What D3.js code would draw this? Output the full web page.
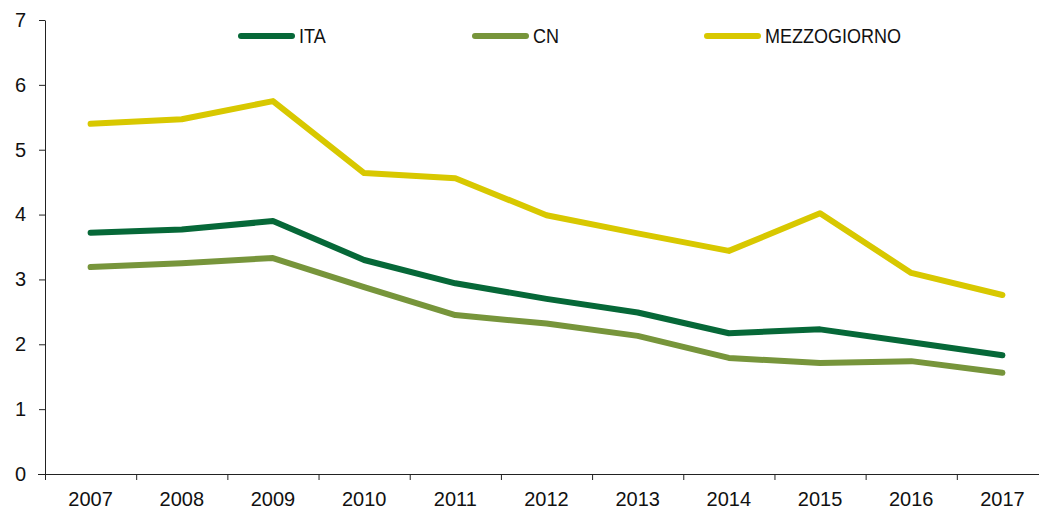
<!DOCTYPE html>
<html>
<head>
<meta charset="utf-8">
<script src="https://cdn.jsdelivr.net/npm/d3@7"></script>
<style>
  body { margin: 0; background: #fff; }
  .tick text { font-family: "Liberation Sans", Arial, sans-serif; font-size: 20px; fill: #111; }
</style>
</head>
<body>
<div id="chart"></div>
<script>
// data
var years = ["2007","2008","2009","2010","2011","2012","2013","2014","2015","2016","2017"];
var ita = [3.72, 3.77, 3.90, 3.30, 2.94, 2.70, 2.49, 2.17, 2.23, 2.03, 1.83];
var cn = [3.19, 3.25, 3.33, 2.88, 2.45, 2.32, 2.13, 1.79, 1.71, 1.74, 1.56];
var mezz = [5.40, 5.47, 5.75, 4.64, 4.56, 3.99, 3.71, 3.44, 4.02, 3.10, 2.76];
var yTicks = [0, 1, 2, 3, 4, 5, 6, 7];

var series = [
    { name: "ITA", values: ita, color: "#066838", lx: 238 },
    { name: "CN", values: cn, color: "#77953b", lx: 472 },
    { name: "MEZZOGIORNO", values: mezz, color: "#d8c800", lx: 704 }
];

var svgWidth = 1039;
var svgHeight = 510;

var svg = d3.select("#chart")
    .append("svg")
    .attr("width", svgWidth)
    .attr("height", svgHeight);

// band scale for years, point at band centre
var xScale = d3.scaleBand()
    .domain(years)
    .range([45, 1048]);

var yScale = d3.scaleLinear()
    .domain([0, 7])
    .range([474, 20]);

// x axis: ticks at the band edges
var xAxis = svg.append("g")
    .attr("transform", "translate(0,474)")
    .call(d3.axisBottom(xScale).tickSize(0).tickPadding(18));
xAxis.select(".domain").attr("stroke", "#222").attr("d", "M38,0.5H1039");
xAxis.selectAll(".edge")
    .data(years)
    .enter()
    .append("line")
    .attr("x1", d => xScale(d) + 0.5)
    .attr("x2", d => xScale(d) + 0.5)
    .attr("y1", 0)
    .attr("y2", 6)
    .attr("stroke", "#222");

var yAxis = svg.append("g")
    .attr("transform", "translate(45,0)")
    .call(d3.axisLeft(yScale).tickValues(yTicks).tickFormat(d3.format("d"))
        .tickSize(6).tickPadding(13).tickSizeOuter(0));
yAxis.select(".domain").attr("stroke", "#222");
yAxis.selectAll(".tick line").attr("stroke", "#222");

// lines
var line = d3.line()
    .x((d, i) => xScale(years[i]) + xScale.bandwidth() / 2)
    .y(d => yScale(d));

series.forEach(function(s) {
    svg.append("path")
        .datum(s.values)
        .attr("d", line)
        .attr("fill", "none")
        .attr("stroke", s.color)
        .attr("stroke-width", 6)
        .attr("stroke-linecap", "round")
        .attr("stroke-linejoin", "round");
});

// legend
var legend = svg.append("g");
series.forEach(function(s) {
    legend.append("line")
        .attr("x1", s.lx + 3).attr("x2", s.lx + 54)
        .attr("y1", 36).attr("y2", 36)
        .attr("stroke", s.color)
        .attr("stroke-width", 6)
        .attr("stroke-linecap", "round");
    // condensed look: squeeze the text horizontally
    legend.append("text")
        .attr("transform", `translate(${s.lx + 61},43) scale(0.9,1)`)
        .attr("font-family", "'Liberation Sans', Arial, sans-serif")
        .attr("font-size", 20)
        .attr("fill", "#111")
        .text(s.name);
});
</script>
</body>
</html>
